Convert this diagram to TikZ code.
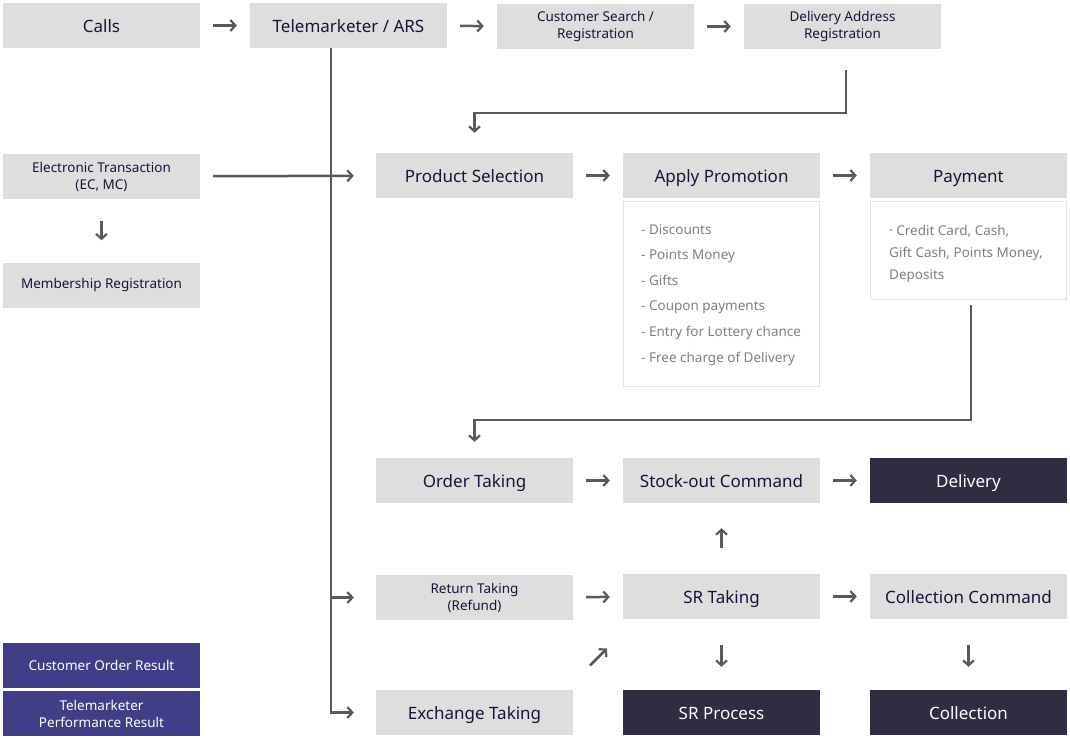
\documentclass[tikz,border=0pt]{standalone}
\usepackage{fontspec}
\setmainfont{Noto Sans}
\usetikzlibrary{arrows.meta,calc}
\definecolor{boxgray}{HTML}{DEDEDE}
\definecolor{txt}{HTML}{16163A}
\definecolor{darkbox}{HTML}{2E2D42}
\definecolor{purplebox}{HTML}{3F3E87}
\definecolor{arr}{HTML}{5A5A5A}
\definecolor{detail}{HTML}{808080}
\definecolor{bordergray}{HTML}{E2E2E2}
\begin{document}
\begin{tikzpicture}[x=1pt,y=-1pt,
  box/.style={fill=boxgray, minimum width=197pt, minimum height=45pt, inner sep=0pt,
    text=txt, align=center, font=\fontsize{17}{20}\selectfont, text height=14pt, text depth=0pt},
  sbox/.style={box, font=\fontsize{13.5}{17}\selectfont, text height={}, text depth={}},
  dbox/.style={box, fill=darkbox, text=white},
  pbox/.style={box, fill=purplebox, text=white, font=\fontsize{13.5}{17}\selectfont, text height={}, text depth={}},
  detbox/.style={draw=bordergray, line width=1pt, fill=white, minimum width=196pt, inner sep=0pt},
  dettext/.style={text=detail, align=left, inner sep=0pt, font=\fontsize{13.5}{25.6}\selectfont},
  flow/.style={draw=arr, line width=2.5pt, -{Straight Barb[length=5pt,width=11pt,line width=2.2pt]}},
  link/.style={draw=arr, line width=2.8pt},
  short/.style={flow, shorten <=13pt, shorten >=13pt}
]
\useasboundingbox (0,0) rectangle (1070,738);
% row 1
\node[box]  (calls) at (101.5,25.5) {Calls};
\node[box]  (tele)  at (348.5,25.5) {Telemarketer / ARS};
\node[sbox] (cs)    at (595.5,26.5) {Customer Search /\\ Registration};
\node[sbox] (da)    at (842.5,26.5) {Delivery Address\\ Registration};
% row 2
\node[sbox] (ec)    at (101.5,176.5) {Electronic Transaction\\(EC, MC)};
\node[sbox] (mem)   at (101.5,285) {Membership Registration};
\node[box]  (prod)  at (474.5,175.5) {Product Selection};
\node[box]  (promo) at (721.5,175.5) {Apply Promotion};
\node[box]  (pay)   at (968.5,175.5) {Payment};
\node[detbox, minimum height=185pt] (promodet) at (721.5,294) {};
\node[detbox, minimum height=98pt]  (paydet)   at (968.5,250.5) {};
\node[dettext, anchor=north west] (promotxt) at (641,224) {- Discounts\\- Points Money\\- Gifts\\- Coupon payments\\- Entry for Lottery chance\\- Free charge of Delivery};
\node[dettext, anchor=north west, font=\fontsize{13.5}{22}\selectfont] (paytxt) at (889,225) {· Credit Card, Cash,\\Gift Cash, Points Money,\\Deposits};
% lower rows
\node[box]  (order) at (474.5,480.5) {Order Taking};
\node[box]  (stock) at (721.5,480.5) {Stock-out Command};
\node[dbox] (deliv) at (968.5,480.5) {Delivery};
\node[sbox] (ret)   at (474.5,597.5) {Return Taking\\(Refund)};
\node[box]  (srt)   at (721.5,596.5) {SR Taking};
\node[box]  (coll)  at (968.5,596.5) {Collection Command};
\node[box]  (ex)    at (474.5,712.5) {Exchange Taking};
\node[dbox] (srp)   at (721.5,712.5) {SR Process};
\node[dbox] (colln) at (968.5,712.5) {Collection};
\node[pbox] (cor)   at (101.5,665.5) {Customer Order Result};
\node[pbox] (tpr)   at (101.5,713.5) {Telemarketer\\Performance Result};
% short arrows
\draw[short] (calls) -- (tele);
\draw[short] (tele) -- (cs);
\draw[short] (cs) -- (da);
\draw[short] (prod) -- (promo);
\draw[short] (promo) -- (pay);
\draw[short] (order) -- (stock);
\draw[short] (stock) -- (deliv);
\draw[short] (ret) -- (srt);
\draw[short] (srt) -- (coll);
\draw[flow, shorten <=22pt, shorten >=22pt] (ec) -- (mem);
\draw[flow, shorten <=26pt, shorten >=25pt] (srt) -- (stock);
\draw[flow, shorten <=26pt, shorten >=23pt] (srt) -- (srp);
\draw[flow, shorten <=26pt, shorten >=23pt] (coll) -- (colln);
\coordinate (mid) at ($(ex.north east)!0.5!(srt.south west)$);
\coordinate (dA) at ([shift={(-8pt,-11pt)}]mid);
\coordinate (dB) at ([shift={(9pt,6pt)}]mid);
\draw[flow] (dA) -- (dB);
% trunk from Telemarketer
\coordinate (trunk) at ([xshift=-17.5pt]tele.south);
\draw[link] (trunk) -- (trunk |- ex.west);
\draw[flow, shorten >=22pt] ([xshift=-1.4pt]trunk |- ex.west) -- (ex.west);
\draw[flow, shorten >=22pt] (trunk |- ret.west) -- (ret.west);
\draw[flow, shorten <=13pt, shorten >=22pt] (ec) -- (prod);
% bends
\coordinate (dastart) at ([xshift=3.5pt,yshift=-21pt]da.south);
\draw[link] (dastart) -- ++(0,43) coordinate (dabend);
\draw[flow, shorten >=20pt] ([xshift=1.4pt]dabend) -| (prod.north);
\coordinate (paystart) at ([xshift=2.5pt,yshift=-5pt]paydet.south);
\draw[link] (paystart) -- ++(0,115) coordinate (paybend);
\draw[flow, shorten >=16pt] ([xshift=1.4pt]paybend) -| (order.north);
\end{tikzpicture}
\end{document}
